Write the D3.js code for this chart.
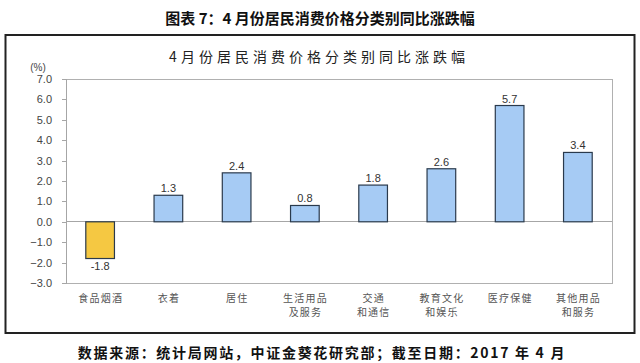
<!DOCTYPE html>
<html lang="zh">
<head>
<meta charset="utf-8">
<script src="https://d3js.org/d3.v7.min.js"></script>
<style>
  body { margin: 0; background: #fff; }
  .axis path, .axis line { stroke: #a6a6a6; shape-rendering: crispEdges; }
  .axis text { font-family: "Liberation Sans", Arial, sans-serif; font-size: 11px; fill: #444; }
</style>
</head>
<body>
<script>
const categories = [["食品烟酒"], ["衣着"], ["居住"], ["生活用品", "及服务"], ["交通", "和通信"], ["教育文化", "和娱乐"], ["医疗保健"], ["其他用品", "和服务"]];
const values = [-1.8, 1.3, 2.4, 0.8, 1.8, 2.6, 5.7, 3.4];
const yTicks = [-3, -2, -1, 0, 1, 2, 3, 4, 5, 6, 7];

const w = 640, h = 363;
const plotLeft = 66, plotRight = 612, plotTop = 79, plotBottom = 283;

const svg = d3.select("body").append("svg").attr("width", w).attr("height", h);

// page title
svg.append("text").attr("x", 320).attr("y", 24).attr("text-anchor", "middle")
  .attr("font-family", "'Noto Sans CJK SC', sans-serif").attr("font-weight", "bold")
  .attr("font-size", "15px").attr("fill", "#111").text("图表 7：4 月份居民消费价格分类别同比涨跌幅");

// outer frame
svg.append("rect").attr("x", 5.5).attr("y", 35).attr("width", 629).attr("height", 298)
  .attr("fill", "none").attr("stroke", "#222").attr("stroke-width", 2);

// chart title
svg.append("text").attr("x", 319).attr("y", 62).attr("text-anchor", "middle")
  .attr("font-family", "'Noto Sans CJK SC', sans-serif").attr("font-size", "14px")
  .attr("letter-spacing", "4px").attr("fill", "#222").text("4月份居民消费价格分类别同比涨跌幅");

svg.append("text").attr("x", 38).attr("y", 71).attr("text-anchor", "middle")
  .attr("font-family", "'Liberation Sans', sans-serif").attr("font-size", "10px")
  .attr("fill", "#444").text("(%)");

const x = d3.scaleBand().domain(d3.range(categories.length)).range([plotLeft, plotRight])
  .paddingInner(0.58).paddingOuter(0.29);
const y = d3.scaleLinear().domain([-3, 7]).range([plotBottom, plotTop]);

// plot border
svg.append("rect").attr("x", plotLeft).attr("y", plotTop).attr("width", plotRight - plotLeft).attr("height", plotBottom - plotTop)
  .attr("fill", "none").attr("stroke", "#b0b0b0").attr("shape-rendering", "crispEdges");

svg.append("g").attr("class", "axis").attr("transform", `translate(${plotLeft},0)`)
  .call(d3.axisLeft(y).tickValues(yTicks).tickFormat(d3.format(".1f")).tickSizeOuter(0).tickSize(4).tickPadding(10));

// zero line
svg.append("line").attr("x1", plotLeft).attr("x2", plotRight).attr("y1", y(0)).attr("y2", y(0))
  .attr("stroke", "#a6a6a6").attr("shape-rendering", "crispEdges");

svg.selectAll("rect.bar").data(values).enter().append("rect").attr("class", "bar")
  .attr("x", (d, i) => x(i))
  .attr("width", x.bandwidth())
  .attr("y", d => y(Math.max(0, d)))
  .attr("height", d => Math.abs(y(d) - y(0)))
  .attr("fill", d => d < 0 ? "#f5c842" : "#a6cbf4")
  .attr("stroke", "#2a3a4c").attr("stroke-width", 1.2);

svg.selectAll("text.val").data(values).enter().append("text").attr("class", "val")
  .attr("x", (d, i) => x(i) + x.bandwidth() / 2)
  .attr("y", d => d < 0 ? y(d) + 11 : y(d) - 3)
  .attr("text-anchor", "middle")
  .attr("font-family", "'Liberation Sans', Arial, sans-serif").attr("font-size", "11px")
  .attr("fill", "#333").text(d => d.toFixed(1));

// category labels, one text element per line
const catLines = categories.flatMap((lines, i) => lines.map((t, j) => ({ t, i, j })));
svg.selectAll("text.cat").data(catLines).enter().append("text").attr("class", "cat")
  .attr("x", d => x(d.i) + x.bandwidth() / 2 + 0.6)
  .attr("y", d => 302 + d.j * 14)
  .attr("text-anchor", "middle")
  .attr("font-family", "'Noto Sans CJK SC', sans-serif").attr("font-size", "10px")
  .attr("letter-spacing", "1.2px").attr("fill", "#555")
  .text(d => d.t);

// footer
svg.append("text").attr("x", 322).attr("y", 358).attr("text-anchor", "middle")
  .attr("font-family", "'Noto Sans CJK SC', sans-serif").attr("font-weight", "bold")
  .attr("font-size", "14px").attr("letter-spacing", "1.7px").attr("fill", "#111")
  .text("数据来源：统计局网站，中证金葵花研究部；截至日期：2017 年 4 月");
</script>
</body>
</html>
